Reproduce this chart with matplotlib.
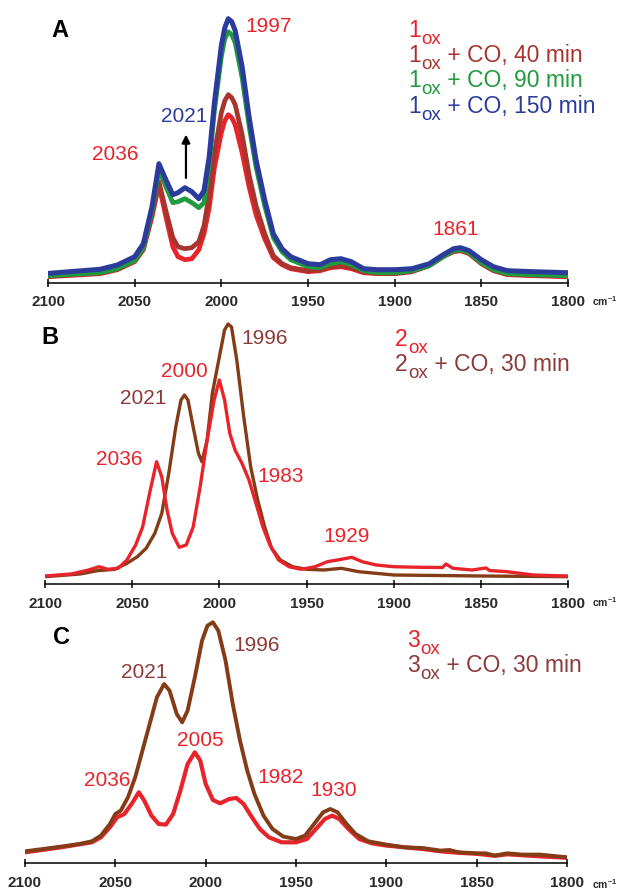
import numpy as np
import matplotlib
matplotlib.use("Agg")
import matplotlib.pyplot as plt

plt.rcParams['font.family'] = ['Liberation Sans', 'DejaVu Sans']
plt.rcParams['mathtext.fontset'] = 'custom'
plt.rcParams['mathtext.rm'] = 'Liberation Sans'
plt.rcParams['mathtext.it'] = 'Liberation Sans'

# panel A: 1ox series (heights)
wn_a = [2100, 2070, 2060, 2050, 2045, 2040, 2036, 2032, 2028, 2025, 2021, 2017, 2013, 2010,
        2007, 2004, 2000, 1998, 1996, 1994, 1992, 1988, 1984, 1980, 1975, 1970, 1965, 1960,
        1950, 1943, 1937, 1931, 1925, 1918, 1910, 1900, 1890, 1880, 1872, 1866, 1862, 1857,
        1850, 1843, 1835, 1820, 1800]
a_1ox = [6, 9, 13, 21, 33, 66, 98, 66, 36, 26, 23, 24, 33, 49, 75, 115, 150, 162, 168, 165,
         158, 130, 96, 68, 44, 25, 18, 14, 11, 12, 15, 16, 14, 10, 9, 9, 11, 17, 26, 31, 32, 29,
         19, 12, 8, 7, 6]
a_40 = [6.5, 9.5, 13.5, 22, 34, 69, 101, 72, 45, 36, 34, 35, 41, 57, 88, 130, 170, 182, 188,
        185, 178, 148, 108, 77, 49, 27, 19, 15, 12, 13, 16, 17, 15, 11, 9.5, 9.5, 11.5, 17.5,
        26.5, 31.5, 32.5, 29.5, 19.5, 12.5, 8.5, 7.5, 6.5]
a_90 = [7, 10, 14, 22, 35, 72, 113, 96, 80, 81, 84, 80, 75, 80, 118, 172, 226, 244, 251, 248,
        240, 205, 157, 116, 77, 45, 31, 23, 16, 15, 19, 21, 18, 12, 10, 10, 12, 17, 26, 32, 33,
        30, 20, 13, 9, 8, 7]
a_150 = [9.3, 13.4, 17.7, 26, 39, 76, 119, 103, 88, 90, 95, 91, 84, 92, 126, 180, 237, 255,
         264, 261, 252, 216, 166, 123, 83, 49, 34, 26, 19, 18, 23, 24, 21, 14, 13, 13, 14, 19,
         28, 34, 35, 32, 23, 16, 12, 11, 10]

# panel B: 2ox
wn_b_co = [2100, 2080, 2070, 2060, 2053, 2047, 2042, 2037, 2033, 2029, 2025, 2022, 2020, 2018,
           2015, 2012, 2010, 2007, 2004, 2000, 1997, 1995, 1993, 1990, 1986, 1982, 1978, 1974,
           1970, 1965, 1958, 1950, 1940, 1930, 1920, 1900, 1850, 1800]
b_co = [7.3, 10, 13.3, 14.7, 20.7, 27.3, 35.7, 50.7, 70.7, 110.7, 157, 184, 189, 184, 157,
        130.7, 122.3, 144, 190.7, 227, 254, 260, 257, 224, 167, 117, 84, 57, 35.7, 24, 17.3,
        14.7, 14, 15.7, 12.3, 9, 8, 7.3]
wn_b_ox = [2100, 2085, 2075, 2069, 2064, 2058, 2053, 2048, 2044, 2040, 2036, 2033, 2030, 2027,
           2023, 2019, 2015, 2011, 2007, 2003, 2000, 1997, 1994, 1991, 1987, 1983, 1979, 1975,
           1971, 1966, 1960, 1953, 1945, 1938, 1930, 1924, 1918, 1910, 1900, 1885, 1872, 1870,
           1866, 1855, 1847, 1845, 1835, 1820, 1800]
b_ox = [8, 10, 14, 17.3, 14.7, 15.7, 24, 39, 57, 90.7, 122.3, 107, 74, 50.7, 36.7, 39, 57,
        97.3, 144, 184, 204, 184, 150.7, 134, 120.7, 104, 80.7, 57, 39, 24, 17.3, 14.7, 17.3,
        22.3, 24.7, 26.7, 22.3, 19, 17.3, 16.7, 16.5, 20, 15.7, 14, 16, 13.5, 12.3, 9, 8]

# panel C: 3ox
wn_c_co = [2100, 2090, 2080, 2070, 2063, 2058, 2053, 2050, 2047, 2043, 2039, 2035, 2031, 2027,
           2023, 2020, 2016, 2013, 2010, 2006, 2002, 1999, 1996, 1993, 1989, 1985, 1981, 1977,
           1973, 1968, 1963, 1957, 1950, 1945, 1940, 1935, 1931, 1927, 1922, 1917, 1910, 1900,
           1890, 1880, 1870, 1865, 1860, 1850, 1845, 1840, 1833, 1825, 1815, 1800]
c_co = [12, 14.3, 16.7, 19.3, 22, 27.7, 39.3, 49.3, 52.7, 66, 86, 112.7, 139.3, 166, 179.3,
        172.7, 149.3, 141, 152.7, 186, 222.7, 237.7, 241, 232.7, 202.7, 159.3, 122.7, 92.7,
        69.3, 47.7, 34.3, 26.7, 24.3, 27.7, 39.3, 51, 54.3, 51, 39.3, 29.3, 22, 18.7, 16, 15.3,
        12.7, 13.3, 11, 10, 10, 7.7, 10, 8.7, 8.7, 6]
wn_c_ox = [2100, 2080, 2063, 2058, 2053, 2049, 2045, 2041, 2037, 2034, 2030, 2026, 2022, 2018,
           2014, 2010, 2006, 2003, 2000, 1996, 1992, 1987, 1983, 1979, 1975, 1970, 1965, 1958,
           1950, 1944, 1939, 1934, 1930, 1926, 1921, 1915, 1908, 1900, 1880, 1870, 1860, 1850,
           1840, 1833, 1820, 1800]
c_ox = [11, 16, 21, 26, 36, 46, 49.3, 59.3, 71, 62.7, 47.7, 39.3, 38.7, 49.3, 72.7, 99.3, 111,
        102.7, 79.3, 63.3, 60, 64.3, 65.3, 59.3, 47.7, 34.3, 26, 21, 21, 24.3, 34.3, 44.3, 47.7,
        44.3, 34.3, 24.3, 20, 17.7, 14.3, 12, 10.5, 9.5, 7.5, 9, 7.5, 5.5]

ticks = [2100, 2050, 2000, 1950, 1900, 1850, 1800]

RED = '#e8232a'
DARKRED = '#a8342e'
GREEN = '#1f9a3e'
BLUE = '#2b3b9c'
BROWN = '#843c17'
BROWNTXT = '#8c3a3a'

W, H = 620.0, 893.0
fig = plt.figure(figsize=(6.2, 8.93), dpi=100)
fig.patch.set_facecolor('white')


def make_axes(left, right, top, axis_y):
    ax = fig.add_axes([left / W, 1 - axis_y / H, (right - left) / W, (axis_y - top) / H])
    ax.set_xlim(2100, 1800)
    ax.set_ylim(0, axis_y - top)
    for s in ['top', 'left', 'right']:
        ax.spines[s].set_visible(False)
    ax.spines['bottom'].set_linewidth(1.1)
    ax.set_yticks([])
    ax.set_xticks(ticks)
    ax.set_xticklabels([str(t) for t in ticks])
    ax.tick_params(axis='x', direction='inout', length=6, width=1.1, pad=6,
                   labelsize=11, labelcolor='#2a2a2a')
    for lab in ax.get_xticklabels():
        lab.set_fontweight('bold')
    ax.patch.set_alpha(0)
    return ax


def ox_label(ax, x, y, num, rest, color, size=16.5):
    # number, lowered "ox" and the rest of the line on the number's baseline
    t1 = ax.text(x, y, num, color=color, fontsize=size, ha='left', va='bottom')
    t2 = ax.annotate('ox', xy=(1, 0), xycoords=t1, xytext=(0.3, -4.2),
                     textcoords='offset points', color=color, fontsize=size * 0.82,
                     ha='left', va='bottom')
    if rest:
        ax.annotate(rest, xy=(1, 0), xycoords=(t2, t1), xytext=(0, 0),
                    textcoords='offset points', color=color, fontsize=size,
                    ha='left', va='bottom')


# ---- A
ax = make_axes(48, 568, 0, 282.7)
ax.plot(wn_a, a_1ox, color=RED, lw=3.4, solid_joinstyle='round')
ax.plot(wn_a, a_40, color=DARKRED, lw=3.4, solid_joinstyle='round')
ax.plot(wn_a, a_90, color=GREEN, lw=3.4, solid_joinstyle='round')
ax.plot(wn_a, a_150, color=BLUE, lw=3.6, solid_joinstyle='round')
ax.text(2093, 252, 'A', fontsize=17, fontweight='bold', ha='center', va='center')
ax.text(1973, 256, '1997', color=RED, fontsize=15, ha='center', va='center')
ax.text(2021.5, 166, '2021', color=BLUE, fontsize=15, ha='center', va='center')
ax.text(2061.3, 128, '2036', color=RED, fontsize=15, ha='center', va='center')
ax.text(1865, 53, '1861', color=RED, fontsize=15, ha='center', va='center')
ax.annotate('', xy=(2020.4, 151), xytext=(2020.4, 102),
            arrowprops=dict(arrowstyle='-|>', color='black', lw=1.6, mutation_scale=12))
ox_label(ax, 1892.3, 241, '1', '', RED)
ox_label(ax, 1892.3, 216, '1', ' + CO, 40 min', DARKRED)
ox_label(ax, 1892.3, 190.5, '1', ' + CO, 90 min', GREEN)
ox_label(ax, 1892.3, 164.5, '1', ' + CO, 150 min', BLUE)

# ---- B
ax = make_axes(45, 568, 310, 584)
ax.plot(wn_b_co, b_co, color=BROWN, lw=2.4, solid_joinstyle='round')
ax.plot(wn_b_ox, b_ox, color=RED, lw=2.4, solid_joinstyle='round')
ax.text(2097, 247, 'B', fontsize=17, fontweight='bold', ha='center', va='center')
ax.text(1973.8, 246, '1996', color=BROWNTXT, fontsize=15, ha='center', va='center')
ax.text(2020.3, 213, '2000', color=RED, fontsize=15, ha='center', va='center')
ax.text(2043.8, 186, '2021', color=BROWNTXT, fontsize=15, ha='center', va='center')
ax.text(2057.6, 125, '2036', color=RED, fontsize=15, ha='center', va='center')
ax.text(1964.6, 108, '1983', color=RED, fontsize=15, ha='center', va='center')
ax.text(1926.8, 47, '1929', color=RED, fontsize=15, ha='center', va='center')
ox_label(ax, 1899.2, 233, '2', '', RED)
ox_label(ax, 1899.2, 208, '2', ' + CO, 30 min', BROWNTXT)

# ---- C
ax = make_axes(25, 567, 612, 863.3)
ax.plot(wn_c_ox, c_ox, color=RED, lw=3.0, solid_joinstyle='round')
ax.plot(wn_c_co, c_co, color=BROWN, lw=2.8, solid_joinstyle='round')
ax.text(2080, 226, 'C', fontsize=17, fontweight='bold', ha='center', va='center')
ax.text(1971.6, 218, '1996', color=BROWNTXT, fontsize=15, ha='center', va='center')
ax.text(2034.1, 191, '2021', color=BROWNTXT, fontsize=15, ha='center', va='center')
ax.text(2003.1, 123, '2005', color=RED, fontsize=15, ha='center', va='center')
ax.text(2054.6, 83, '2036', color=RED, fontsize=15, ha='center', va='center')
ax.text(1958.3, 86, '1982', color=RED, fontsize=15, ha='center', va='center')
ax.text(1929, 73, '1930', color=RED, fontsize=15, ha='center', va='center')
ox_label(ax, 1888.6, 211, '3', '', RED)
ox_label(ax, 1888.6, 186, '3', ' + CO, 30 min', BROWNTXT)

# cm-1 units at the end of each axis
for yy in [301, 602, 884]:
    fig.text(592 / W, 1 - yy / H, r'cm$^{\mathregular{-1}}$', fontsize=7.5, fontweight='bold',
             color='#2a2a2a', ha='left', va='center')

fig.savefig('out.png', dpi=100, facecolor='white')
